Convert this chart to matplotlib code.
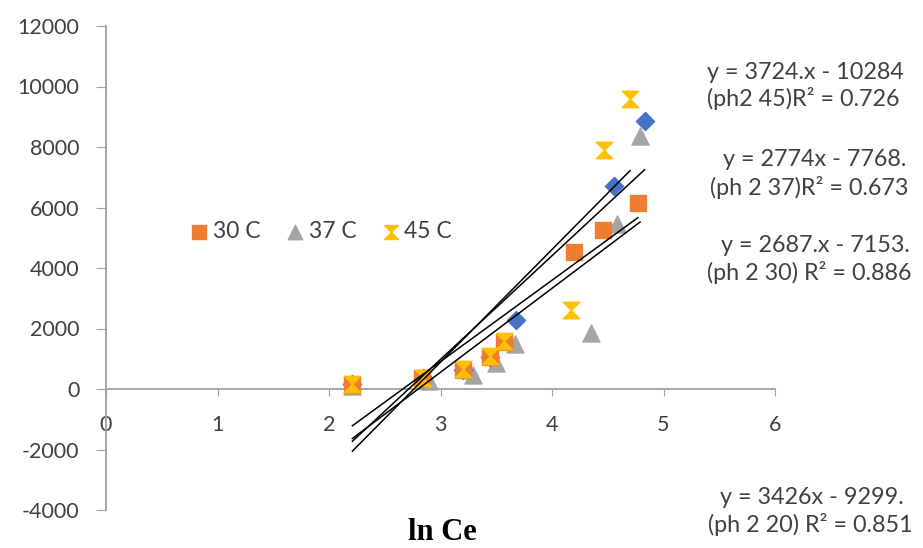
import matplotlib
matplotlib.use("Agg")
import matplotlib.pyplot as plt
import numpy as np
from matplotlib.path import Path

# ---- data ----
x20 = [2.21, 2.84, 3.20, 3.44, 3.68, 4.56, 4.83]
y20 = [150, 380, 620, 1050, 2290, 6700, 8850]
x30 = [2.21, 2.83, 3.20, 3.44, 3.57, 4.20, 4.46, 4.77]
y30 = [130, 380, 630, 1050, 1550, 4520, 5250, 6150]
x37 = [2.21, 2.90, 3.29, 3.50, 3.67, 4.35, 4.58, 4.79]
y37 = [100, 250, 450, 850, 1500, 1850, 5450, 8350]
x45 = [2.21, 2.84, 3.20, 3.44, 3.57, 4.17, 4.47, 4.70]
y45 = [150, 350, 650, 1100, 1580, 2600, 7900, 9600]

slopes = {"20": 3426, "30": 2687, "37": 2774, "45": 3724}
intercepts = {"20": -9299, "30": -7153, "37": -7768, "45": -10284}

eq_labels = [
    ("y = 3724.x - 10284", "(ph2 45)R\u00b2 = 0.726"),
    ("y = 2774x - 7768.", "(ph 2 37)R\u00b2 = 0.673"),
    ("y = 2687.x - 7153.", "(ph 2 30) R\u00b2 = 0.886"),
    ("y = 3426x - 9299.", "(ph 2 20) R\u00b2 = 0.851"),
]
x_ticks = [0, 1, 2, 3, 4, 5, 6]
y_ticks = [-4000, -2000, 0, 2000, 4000, 6000, 8000, 10000, 12000]

# ---- style ----
plt.rcParams['font.family'] = ['Lato', 'DejaVu Sans']
C_BLUE, C_ORANGE, C_GRAY, C_YELLOW = '#4472C4', '#ED7D31', '#A5A5A5', '#FFC000'
TXT = '#404040'
hourglass = Path([(-1, 1), (1, 1), (0, 0), (1, -1), (-1, -1), (0, 0), (-1, 1)],
                 [Path.MOVETO, Path.LINETO, Path.LINETO, Path.LINETO, Path.LINETO, Path.LINETO, Path.CLOSEPOLY])

fig = plt.figure(figsize=(9.23, 5.48), dpi=100)
ax = fig.add_axes([106/923, 1-510/548, (775-106)/923, (510-26)/548])

ax.scatter(x37, y37, marker='^', s=150, color=C_GRAY, zorder=2, label='37 C')
ax.scatter(x20, y20, marker='D', s=85, color=C_BLUE, zorder=3)
ax.scatter(x30, y30, marker='s', s=130, color=C_ORANGE, zorder=4, label='30 C')
ax.scatter(x45, y45, marker=hourglass, s=140, color=C_YELLOW, zorder=5, label='45 C')

for key, xs in (("20", x20), ("30", x30), ("37", x37), ("45", x45)):
    xx = np.array([min(xs), max(xs)])
    ax.plot(xx, slopes[key]*xx + intercepts[key], color='black', lw=1.1, zorder=6)

ax.set_xlim(0, 6)
ax.set_ylim(-4000, 12000)
ax.set_xticks(x_ticks)
ax.set_yticks(y_ticks)
ax.set_xticklabels([str(t) for t in x_ticks])
ax.set_yticklabels([str(t) for t in y_ticks])
for s in ('top', 'right'):
    ax.spines[s].set_visible(False)
ax.spines['bottom'].set_position(('data', 0))
for s in ('left', 'bottom'):
    ax.spines[s].set_color('#A0A0A0')
    ax.spines[s].set_linewidth(1.3)
ax.tick_params(axis='x', direction='out', length=5, color='#A0A0A0', labelsize=15.5, pad=14, labelcolor=TXT)
ax.tick_params(axis='y', direction='out', length=7, color='#A0A0A0', labelsize=15.5, pad=12, labelcolor=TXT)

fig.text(442/923, 1-532/548, 'ln Ce', ha='center', va='center', fontsize=22,
         fontweight='bold', family='Liberation Serif')

# legend
h, l = ax.get_legend_handles_labels()
order = [l.index('30 C'), l.index('37 C'), l.index('45 C')]
leg = fig.legend([h[i] for i in order], [l[i] for i in order], loc='center',
                 bbox_to_anchor=(320/923, 1-232/548), ncol=3, frameon=False,
                 fontsize=16.5, handletextpad=0.1, columnspacing=1.0,
                 handlelength=1.0, markerscale=0.85)
for t in leg.get_texts():
    t.set_color(TXT)

# equations
eq_pos = [((805, 72), (803, 99)), ((815, 160), (809, 187)),
          ((815, 246), (809, 273)), ((812, 497), (810, 524))]
for (l1, l2), ((x1, y1), (x2, y2)) in zip(eq_labels, eq_pos):
    fig.text(x1/923, 1-y1/548, l1, ha='center', va='center', fontsize=16.8, color=TXT)
    fig.text(x2/923, 1-y2/548, l2, ha='center', va='center', fontsize=16.8, color=TXT)

fig.savefig('out.png', dpi=100)
